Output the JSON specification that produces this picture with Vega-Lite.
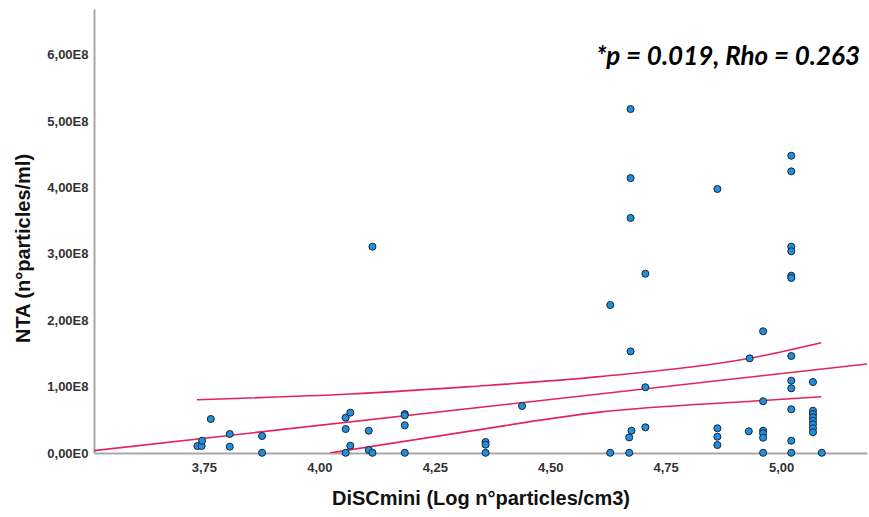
{
  "$schema": "https://vega.github.io/schema/vega-lite/v6.json",
  "autosize": "none",
  "width": 773,
  "height": 444,
  "padding": {"left": 94, "top": 9, "right": 2, "bottom": 64},
  "background": "white",
  "config": {
    "view": {"stroke": null},
    "axis": {"grid": false, "ticks": false, "domainColor": "#a8a8a8", "domainWidth": 2,
             "labelFont": "Liberation Sans", "labelFontWeight": "bold", "labelFontSize": 13, "labelColor": "#333333",
             "titleFont": "Liberation Sans", "titleFontWeight": "bold", "titleFontSize": 20, "titleColor": "#111111"}
  },
  "title": {
    "text": "*p = 0.019, Rho = 0.263",
    "anchor": "end",
    "frame": "group",
    "orient": "top",
    "baseline": "alphabetic",
    "offset": -82,
    "dx": -7,
    "font": "Lato",
    "fontSize": 26,
    "fontWeight": "bold",
    "fontStyle": "italic",
    "color": "#000000"
  },
  "datasets": {
    "points": [
      {"x": 3.736, "y": 10500000}, {"x": 3.745, "y": 10500000}, {"x": 3.746, "y": 18500000},
      {"x": 3.765, "y": 51200000}, {"x": 3.806, "y": 28600000}, {"x": 3.806, "y": 9500000},
      {"x": 3.876, "y": 25600000}, {"x": 3.876, "y": 300000},
      {"x": 4.057, "y": 53200000}, {"x": 4.067, "y": 60700000}, {"x": 4.057, "y": 36100000},
      {"x": 4.107, "y": 33600000}, {"x": 4.067, "y": 11000000}, {"x": 4.057, "y": 300000},
      {"x": 4.107, "y": 4500000}, {"x": 4.115, "y": 300000}, {"x": 4.115, "y": 310700000},
      {"x": 4.185, "y": 58700000}, {"x": 4.185, "y": 56800000}, {"x": 4.185, "y": 41700000},
      {"x": 4.185, "y": 300000}, {"x": 4.36, "y": 16600000}, {"x": 4.36, "y": 12500000},
      {"x": 4.36, "y": 300000}, {"x": 4.439, "y": 70800000},
      {"x": 4.63, "y": 222900000}, {"x": 4.63, "y": 300000},
      {"x": 4.674, "y": 518000000}, {"x": 4.674, "y": 414000000}, {"x": 4.674, "y": 354000000},
      {"x": 4.674, "y": 153000000}, {"x": 4.671, "y": 300000}, {"x": 4.671, "y": 23500000},
      {"x": 4.676, "y": 33600000},
      {"x": 4.706, "y": 270000000}, {"x": 4.706, "y": 99000000}, {"x": 4.706, "y": 38700000},
      {"x": 4.862, "y": 397600000}, {"x": 4.862, "y": 37200000}, {"x": 4.862, "y": 24500000},
      {"x": 4.862, "y": 12000000},
      {"x": 4.932, "y": 142600000}, {"x": 4.93, "y": 32700000},
      {"x": 4.961, "y": 183300000}, {"x": 4.961, "y": 77900000}, {"x": 4.961, "y": 33600000},
      {"x": 4.961, "y": 29700000}, {"x": 4.961, "y": 23000000}, {"x": 4.961, "y": 300000},
      {"x": 5.022, "y": 447700000}, {"x": 5.022, "y": 424200000}, {"x": 5.022, "y": 310700000},
      {"x": 5.022, "y": 303800000}, {"x": 5.022, "y": 267000000}, {"x": 5.022, "y": 263600000},
      {"x": 5.022, "y": 146100000}, {"x": 5.022, "y": 108900000}, {"x": 5.022, "y": 97500000},
      {"x": 5.022, "y": 65800000}, {"x": 5.022, "y": 18500000}, {"x": 5.022, "y": 300000},
      {"x": 5.069, "y": 106900000}, {"x": 5.069, "y": 63700000}, {"x": 5.069, "y": 58700000},
      {"x": 5.069, "y": 53800000}, {"x": 5.069, "y": 48600000}, {"x": 5.069, "y": 43200000},
      {"x": 5.069, "y": 37200000}, {"x": 5.069, "y": 31200000},
      {"x": 5.088, "y": 300000}
    ],
    "lines": [
      {"band": "fit", "x": 3.51, "y": 3500000},
      {"band": "fit", "x": 5.186, "y": 134000000},
      {"band": "upper", "x": 3.735, "y": 80300000},
      {"band": "upper", "x": 4.066, "y": 88900000},
      {"band": "upper", "x": 4.326, "y": 100000000},
      {"band": "upper", "x": 4.607, "y": 115000000},
      {"band": "upper", "x": 4.932, "y": 142600000},
      {"band": "upper", "x": 5.087, "y": 166100000},
      {"band": "lower", "x": 4.023, "y": 0},
      {"band": "lower", "x": 4.326, "y": 33000000},
      {"band": "lower", "x": 4.607, "y": 61500000},
      {"band": "lower", "x": 4.961, "y": 79000000},
      {"band": "lower", "x": 5.087, "y": 84800000}
    ]
  },
  "layer": [
    {
      "data": {"name": "lines"},
      "mark": {"type": "line", "color": "#e2245a", "strokeWidth": 1.6, "interpolate": "monotone", "clip": true},
      "encoding": {
        "x": {"field": "x", "type": "quantitative",
              "scale": {"domain": [3.512, 5.186], "nice": false, "zero": false},
              "axis": {"values": [3.75, 4, 4.25, 4.5, 4.75, 5],
                       "labelExpr": "replace(format(datum.value, '.2f'), '.', ',')",
                       "labelPadding": 8,
                       "title": "DiSCmini (Log n°particles/cm3)",
                       "titleBaseline": "middle", "titleY": 45}},
        "y": {"field": "y", "type": "quantitative",
              "scale": {"domain": [0, 668700000], "nice": false},
              "axis": {"values": [0, 100000000, 200000000, 300000000, 400000000, 500000000, 600000000],
                       "labelExpr": "datum.value == 0 ? '0,00E0' : replace(format(datum.value / 100000000, '.2f'), '.', ',') + 'E8'",
                       "labelPadding": 6,
                       "title": "NTA (n°particles/ml)",
                       "titleAngle": -90, "titleAlign": "center", "titleBaseline": "middle",
                       "titleX": -71, "titleY": 239}},
        "detail": {"field": "band"}
      }
    },
    {
      "data": {"name": "points"},
      "mark": {"type": "point", "filled": true, "fill": "#1f8fe0", "stroke": "#1b2533", "strokeWidth": 1, "size": 50, "opacity": 1, "shape": "circle"},
      "encoding": {
        "x": {"field": "x", "type": "quantitative"},
        "y": {"field": "y", "type": "quantitative"}
      }
    }
  ]
}
